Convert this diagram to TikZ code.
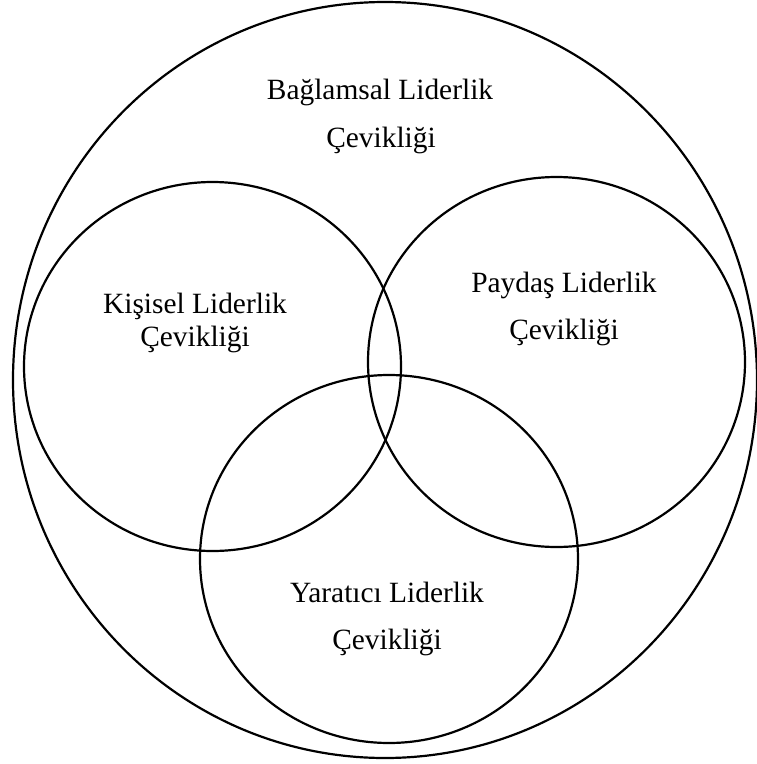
\documentclass[tikz,border=0pt]{standalone}
\usepackage{fontspec}
\setmainfont{Liberation Serif}
\usetikzlibrary{shapes.geometric}
\begin{document}
\begin{tikzpicture}[x=1pt,y=-1pt,
  ring/.style={draw=black,line width=2.2pt,ellipse,inner sep=0pt},
  lbl/.style={anchor=base,inner sep=0pt,font=\fontsize{29.4}{34}\selectfont}]
\useasboundingbox (0,0) rectangle (757,764);
\fill[white] (0,0) rectangle (757,764);
\node[ring,minimum width=744pt,minimum height=756pt] (outer) at (385,380) {};
\node[ring,minimum width=377pt,minimum height=369pt] (kis) at (212.5,366.5) {};
\node[ring,minimum width=377pt,minimum height=370pt] (pay) at (556.5,362) {};
\node[ring,minimum width=378pt,minimum height=368pt] (yar) at (389,559) {};
\node[lbl] (t1) at (380,99) {Bağlamsal Liderlik};
\node[lbl] (t2) at (381,147) {Çevikliği};
\node[lbl] (t3) at (195,313) {Kişisel Liderlik};
\node[lbl] (t4) at (195,346) {Çevikliği};
\node[lbl] (t5) at (564,292) {Paydaş Liderlik};
\node[lbl] (t6) at (564,339) {Çevikliği};
\node[lbl] (t7) at (387,602) {Yaratıcı Liderlik};
\node[lbl] (t8) at (387,649) {Çevikliği};
\end{tikzpicture}
\end{document}
